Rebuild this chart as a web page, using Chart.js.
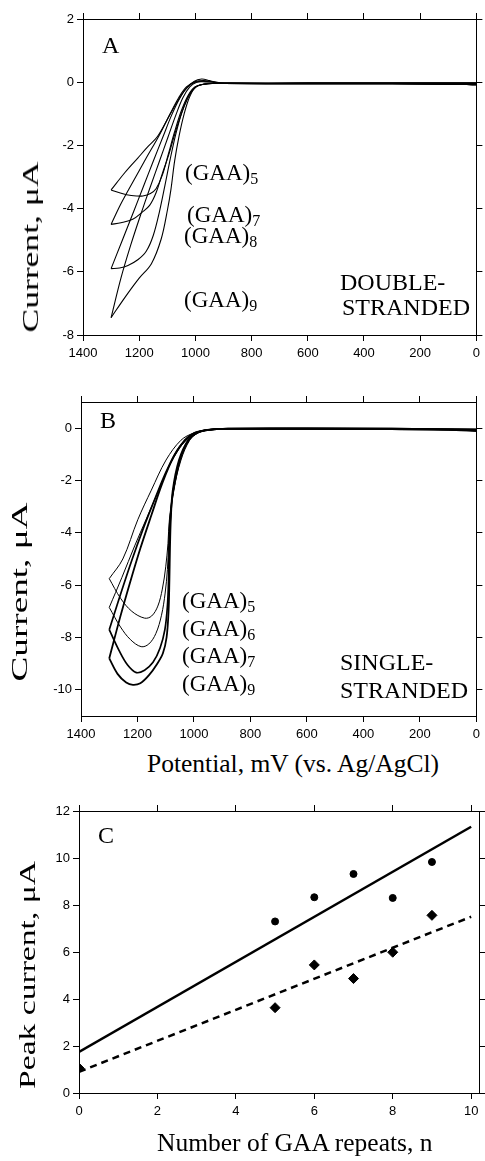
<!DOCTYPE html>
<html>
<head>
<meta charset="utf-8">
<script src="https://cdn.jsdelivr.net/npm/chart.js@4.4.0/dist/chart.umd.min.js"></script>
<style>
  html, body { margin: 0; padding: 0; background: #fff; }
  body { width: 485px; height: 1161px; position: relative; overflow: hidden; }
  canvas { position: absolute; left: 0; }
  .t { position: absolute; font-family: "Liberation Serif", "Times New Roman", serif; color: #000; line-height: 1; white-space: nowrap; }
  .t sub { font-size: 16px; vertical-align: -4px; line-height: 0; }
</style>
</head>
<body>
<canvas id="cA" width="485" height="370" style="top:0"></canvas>
<canvas id="cB" width="485" height="360" style="top:380px"></canvas>
<canvas id="cC" width="485" height="350" style="top:790px"></canvas>

<div class="t" style="left:102px;top:33px;font-size:24px">A</div>
<div class="t" style="left:185px;top:161px;font-size:23px">(GAA)<sub>5</sub></div>
<div class="t" style="left:187px;top:203px;font-size:23px">(GAA)<sub>7</sub></div>
<div class="t" style="left:184px;top:224px;font-size:23px">(GAA)<sub>8</sub></div>
<div class="t" style="left:184px;top:288px;font-size:23px">(GAA)<sub>9</sub></div>
<div class="t" style="left:340px;top:270px;font-size:24px">DOUBLE-</div>
<div class="t" style="left:342px;top:295px;font-size:24px">STRANDED</div>
<div class="t" style="left:30px;top:247px;font-size:24px;transform:translate(-50%,-50%) rotate(-90deg) scaleX(1.48)">Current, μA</div>

<div class="t" style="left:100px;top:408px;font-size:24px">B</div>
<div class="t" style="left:182px;top:589px;font-size:23px">(GAA)<sub>5</sub></div>
<div class="t" style="left:182px;top:617px;font-size:23px">(GAA)<sub>6</sub></div>
<div class="t" style="left:182px;top:644px;font-size:23px">(GAA)<sub>7</sub></div>
<div class="t" style="left:182px;top:672px;font-size:23px">(GAA)<sub>9</sub></div>
<div class="t" style="left:340px;top:650px;font-size:24px">SINGLE-</div>
<div class="t" style="left:340px;top:678px;font-size:24px">STRANDED</div>
<div class="t" style="left:19px;top:592px;font-size:24px;transform:translate(-50%,-50%) rotate(-90deg) scaleX(1.55)">Current, μA</div>
<div class="t" style="left:147px;top:751px;font-size:25.5px">Potential, mV (vs. Ag/AgCl)</div>

<div class="t" style="left:98px;top:823px;font-size:24px">C</div>
<div class="t" style="left:27px;top:975px;font-size:24px;transform:translate(-50%,-50%) rotate(-90deg) scaleX(1.4)">Peak current, μA</div>
<div class="t" style="left:157px;top:1130px;font-size:25.5px">Number of GAA repeats, n</div>

<script>
// ---- panel A: double-stranded, [potential mV, current uA]
// each loop = forward branch and return branch, both starting at the 1300 mV switch
const aFwd5 = [[1300,-3.41],[1250,-2.85],[1205,-2.4],[1170,-2.05],[1135,-1.72],[1095,-1.1],[1062,-0.58],[1035,-0.23],[1005,0.02],[978,0.1],[950,0.05],[920,-0.02],[880,-0.03],[600,-0.03],[300,-0.03],[0,-0.03]];
const aRev5 = [[1300,-3.41],[1270,-3.5],[1245,-3.56],[1210,-3.6],[1187,-3.6],[1160,-3.52],[1140,-3.37],[1118,-2.95],[1097,-2.3],[1075,-1.6],[1052,-0.95],[1028,-0.45],[1005,-0.17],[975,-0.07],[940,-0.04],[900,-0.04],[600,-0.05],[300,-0.05],[100,-0.06],[0,-0.08]];
const aFwd7 = [[1300,-4.5],[1265,-3.85],[1225,-3.2],[1175,-2.4],[1130,-1.7],[1090,-1.0],[1060,-0.5],[1032,-0.15],[1000,0.02],[970,0.05],[940,0.02],[910,-0.02],[880,-0.03],[600,-0.03],[300,-0.03],[0,-0.03]];
const aRev7 = [[1300,-4.5],[1265,-4.45],[1223,-4.34],[1190,-4.12],[1163,-3.9],[1140,-3.5],[1118,-2.9],[1095,-2.3],[1072,-1.6],[1048,-0.95],[1022,-0.42],[998,-0.15],[965,-0.06],[930,-0.04],[900,-0.04],[600,-0.05],[300,-0.05],[100,-0.06],[0,-0.08]];
const aFwd8 = [[1300,-5.9],[1260,-5.0],[1220,-4.1],[1185,-3.3],[1150,-2.5],[1115,-1.72],[1085,-1.05],[1055,-0.5],[1028,-0.15],[1000,0.0],[970,0.03],[935,0.0],[900,-0.03],[600,-0.03],[300,-0.03],[0,-0.03]];
const aRev8 = [[1300,-5.9],[1270,-5.88],[1240,-5.8],[1205,-5.62],[1175,-5.35],[1150,-4.85],[1128,-4.1],[1108,-3.25],[1090,-2.45],[1070,-1.65],[1048,-0.95],[1024,-0.42],[1000,-0.15],[968,-0.06],[930,-0.04],[900,-0.04],[600,-0.05],[300,-0.05],[100,-0.06],[0,-0.08]];
const aFwd9 = [[1300,-7.45],[1265,-6.2],[1230,-5.15],[1195,-4.2],[1160,-3.3],[1128,-2.5],[1098,-1.75],[1070,-1.05],[1045,-0.5],[1020,-0.15],[995,0.0],[965,0.01],[930,-0.01],[900,-0.03],[600,-0.03],[300,-0.03],[0,-0.03]];
const aRev9 = [[1300,-7.45],[1250,-6.8],[1200,-6.2],[1157,-5.75],[1122,-4.97],[1099,-4.02],[1087,-3.39],[1074,-2.5],[1058,-1.7],[1040,-1.0],[1020,-0.45],[998,-0.15],[968,-0.06],[935,-0.04],[900,-0.04],[600,-0.05],[300,-0.05],[100,-0.06],[0,-0.08]];

// ---- panel B: single-stranded
const bFwd5 = [[1300,-5.75],[1252,-5.0],[1199,-3.5],[1151,-2.37],[1099,-1.22],[1046,-0.46],[1000,-0.18],[960,-0.08],[920,-0.04],[880,-0.02],[600,-0.01],[300,-0.02],[0,-0.05]];
const bRev5 = [[1300,-5.75],[1260,-6.5],[1220,-7.0],[1175,-7.26],[1150,-7.18],[1128,-6.8],[1112,-6.15],[1100,-5.3],[1092,-4.4],[1087,-3.5],[1072,-2.37],[1046,-1.22],[1015,-0.46],[985,-0.18],[950,-0.07],[900,-0.03],[600,-0.03],[300,-0.04],[100,-0.06],[0,-0.1]];
const bFwd6 = [[1300,-6.85],[1255,-5.7],[1210,-4.5],[1170,-3.5],[1130,-2.5],[1090,-1.5],[1050,-0.75],[1015,-0.33],[990,-0.17],[960,-0.08],[920,-0.04],[880,-0.02],[600,-0.01],[300,-0.02],[0,-0.05]];
const bRev6 = [[1300,-6.85],[1260,-7.6],[1225,-8.08],[1187,-8.35],[1160,-8.25],[1135,-7.85],[1115,-7.15],[1102,-6.3],[1094,-5.4],[1090,-4.5],[1086,-3.5],[1071,-2.37],[1048,-1.22],[1017,-0.46],[987,-0.18],[950,-0.07],[900,-0.03],[600,-0.03],[300,-0.04],[100,-0.06],[0,-0.1]];
const bFwd7 = [[1300,-7.7],[1260,-6.35],[1220,-5.05],[1180,-3.85],[1140,-2.75],[1100,-1.7],[1060,-0.85],[1022,-0.37],[993,-0.17],[960,-0.08],[920,-0.04],[880,-0.02],[600,-0.01],[300,-0.02],[0,-0.05]];
const bRev7 = [[1300,-7.7],[1265,-8.5],[1235,-9.05],[1204,-9.34],[1175,-9.25],[1145,-8.95],[1120,-8.4],[1103,-7.7],[1094,-6.8],[1090,-5.8],[1088,-4.6],[1084,-3.5],[1073,-2.37],[1050,-1.22],[1019,-0.46],[988,-0.18],[952,-0.07],[900,-0.03],[600,-0.03],[300,-0.04],[100,-0.06],[0,-0.1]];
const bFwd9 = [[1300,-8.8],[1262,-7.25],[1225,-5.85],[1190,-4.6],[1150,-3.3],[1112,-2.1],[1072,-1.1],[1032,-0.45],[998,-0.18],[960,-0.08],[920,-0.04],[880,-0.02],[600,-0.01],[300,-0.02],[0,-0.05]];
const bRev9 = [[1300,-8.8],[1270,-9.4],[1240,-9.72],[1216,-9.81],[1190,-9.75],[1160,-9.45],[1130,-9.0],[1110,-8.6],[1097,-8.0],[1090,-7.0],[1087,-5.8],[1085,-4.6],[1082,-3.5],[1075,-2.37],[1053,-1.22],[1021,-0.46],[990,-0.18],[953,-0.07],[900,-0.03],[600,-0.03],[300,-0.04],[100,-0.06],[0,-0.1]];

// ---- panel C: peak current vs number of repeats
const cRepeats   = [5, 6, 7, 8, 9];
const cSingle    = [7.3, 8.33, 9.32, 8.3, 9.83];
const cRepeatsDs = [0, 5, 6, 7, 8, 9];
const cDouble    = [1.06, 3.63, 5.45, 4.87, 5.99, 7.56];
const cFitSingle = [[0, 1.75], [10, 11.33]];
const cFitDouble = [[0, 0.9], [10, 7.5]];

// ticks
const potTicks   = [1400, 1200, 1000, 800, 600, 400, 200, 0];
const aCurTicks  = [2, 0, -2, -4, -6, -8];
const bCurTicks  = [0, -2, -4, -6, -8, -10];
const cRepTicks  = [0, 2, 4, 6, 8, 10];
const cPeakTicks = [0, 2, 4, 6, 8, 10, 12];

const pts = arr => arr.map(([x, y]) => ({ x, y }));
const tickFont = { family: 'Liberation Sans, Arial, sans-serif', size: 13 };

function edgeAxis(pos, min, max, ticks, size, opts = {}) {
  const vert = pos === 'left' || pos === 'right';
  return {
    type: 'linear', position: pos, min, max, reverse: !!opts.reverse,
    afterBuildTicks: s => { s.ticks = ticks.map(v => ({ value: v })); },
    afterFit: s => { if (vert) s.width = size; else s.height = size; },
    grid: { drawOnChartArea: false, drawTicks: true, tickLength: 6, color: '#000', lineWidth: 1 },
    border: { display: true, color: '#000', width: 1 },
    ticks: { display: !!opts.labels, color: '#000', font: tickFont, padding: opts.pad || 3, maxRotation: 0, autoSkip: false, callback: v => String(v) },
  };
}

const line = (data, w) => ({ data: pts(data), showLine: true, borderColor: '#000', borderWidth: w || 1, pointRadius: 0, tension: 0.35, fill: false });

const baseOpts = (padding, scales) => ({
  responsive: false, animation: false, events: [],
  layout: { padding },
  plugins: { legend: { display: false }, tooltip: { enabled: false } },
  scales,
});

new Chart(document.getElementById('cA'), {
  type: 'scatter',
  data: { datasets: [aFwd5, aRev5, aFwd7, aRev7, aFwd8, aRev8, aFwd9, aRev9].map(d => line(d, 1.1)) },
  options: baseOpts({ top: 13, right: 0, bottom: 5, left: 0 }, {
    x: edgeAxis('bottom', 0, 1400, potTicks, 30, { reverse: true, labels: true, pad: 5 }),
    xTop: edgeAxis('top', 0, 1400, potTicks, 6, { reverse: true }),
    y: edgeAxis('left', -8, 2, aCurTicks, 83, { labels: true }),
    yRight: edgeAxis('right', -8, 2, aCurTicks, 5),
  }),
});

new Chart(document.getElementById('cB'), {
  type: 'scatter',
  data: { datasets: [line(bFwd5, 1), line(bRev5, 1), line(bFwd6, 1), line(bRev6, 1), line(bFwd7, 1.7), line(bRev7, 1.7), line(bFwd9, 1.8), line(bRev9, 1.8)] },
  options: baseOpts({ top: 16, right: 0, bottom: 2, left: 0 }, {
    x: edgeAxis('bottom', 0, 1400, potTicks, 22, { reverse: true, labels: true, pad: 5 }),
    xTop: edgeAxis('top', 0, 1400, potTicks, 6, { reverse: true }),
    y: edgeAxis('left', -11, 1, bCurTicks, 81, { labels: true }),
    yRight: edgeAxis('right', -11, 1, bCurTicks, 6),
  }),
});

new Chart(document.getElementById('cC'), {
  type: 'scatter',
  data: {
    datasets: [
      { data: pts(cFitSingle), showLine: true, borderColor: '#000', borderWidth: 2.5, pointRadius: 0 },
      { data: pts(cFitDouble), showLine: true, borderColor: '#000', borderWidth: 2.5, borderDash: [7, 5], pointRadius: 0 },
      { data: cRepeats.map((x, i) => ({ x, y: cSingle[i] })), pointStyle: 'circle', pointRadius: 3.5, backgroundColor: '#000', borderColor: '#000' },
      { data: cRepeatsDs.map((x, i) => ({ x, y: cDouble[i] })), pointStyle: 'rectRot', pointRadius: 5, backgroundColor: '#000', borderColor: '#000' },
    ],
  },
  options: baseOpts({ top: 15, right: 0, bottom: 7, left: 0 }, {
    x: edgeAxis('bottom', 0, 10.2, cRepTicks, 40, { labels: true, pad: 5 }),
    xTop: edgeAxis('top', 0, 10.2, cRepTicks, 6),
    y: edgeAxis('left', 0, 12, cPeakTicks, 79, { labels: true }),
    yRight: edgeAxis('right', 0, 12, cPeakTicks, 5),
  }),
});
</script>
</body>
</html>
